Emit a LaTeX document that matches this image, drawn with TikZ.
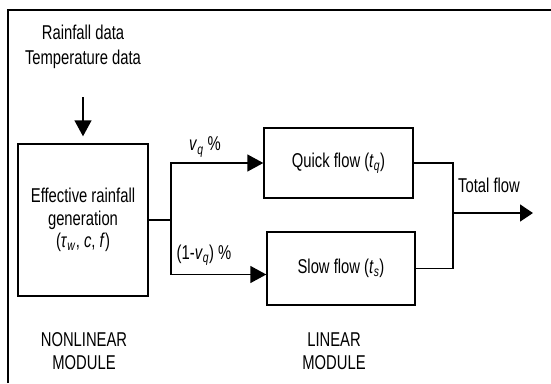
\documentclass[tikz,border=0pt]{standalone}
\usepackage{fontspec}
\setmainfont{Liberation Sans}[FakeStretch=0.74]
\usetikzlibrary{positioning, arrows.meta}

\begin{document}
\begin{tikzpicture}[
  x=1pt, y=-1pt,
  font=\fontsize{20}{23}\selectfont,
  block/.style={draw, line width=1.4pt, inner sep=0pt, align=center},
  label/.style={align=center, inner sep=2pt},
  link/.style={line width=1.4pt},
  flow/.style={link, -{Triangle[length=16pt, width=17pt]}},
]
\useasboundingbox (0,0) rectangle (551,383);
% frame
\draw[line width=2.7pt] (8,383) -- (8,10) -- (551,10);
% inputs
\node[label, font=\fontsize{20}{25}\selectfont] (data) at (83,47)
  {Rainfall data\\ Temperature data};
% nonlinear module
\node[block, minimum width=130pt, minimum height=152pt,
      font=\fontsize{20}{22.5}\selectfont] (gen) at (83,220)
  {Effective rainfall\\ generation\\ (\textit{τ}\textsubscript{\textit{w}}, \textit{c}, \textit{f})};
% linear module
\node[block, minimum width=149pt, minimum height=70pt] (quick) at (338.5,163)
  {Quick flow (\textit{t}\textsubscript{\textit{q}})};
\node[block, minimum width=148pt, minimum height=73pt] (slow) at (341,268.5)
  {Slow flow (\textit{t}\textsubscript{\textit{s}})};
% branch points
\coordinate (split) at (171,220);
\coordinate (merge) at (453,213);
\coordinate (out) at (533,213);
% connectors
\draw[flow, shorten <=26pt, shorten >=7pt] (data) -- (gen);
\draw[link] (gen.east) -- (split);
\draw[flow] (split) |- (quick.west);
\draw[flow] (split) |- ([yshift=-6pt]slow.west);
\draw[link] (quick.east) -| (merge);
\draw[link] (slow.east) -| (merge);
\draw[flow, -{Triangle[length=13pt, width=17pt]}] (merge) -- (out);
% labels
\node[label] (vq) at (205,147) {\textit{v}\textsubscript{\textit{q}} \%};
\node[label] (vs) at (204,255) {(1-\textit{v}\textsubscript{\textit{q}}) \%};
\node[label] (total) at (489,185) {Total flow};
\node[label] (nonlin) at (84,351) {NONLINEAR\\ MODULE};
\node[label] (lin) at (334,351) {LINEAR\\ MODULE};
\end{tikzpicture}
\end{document}
